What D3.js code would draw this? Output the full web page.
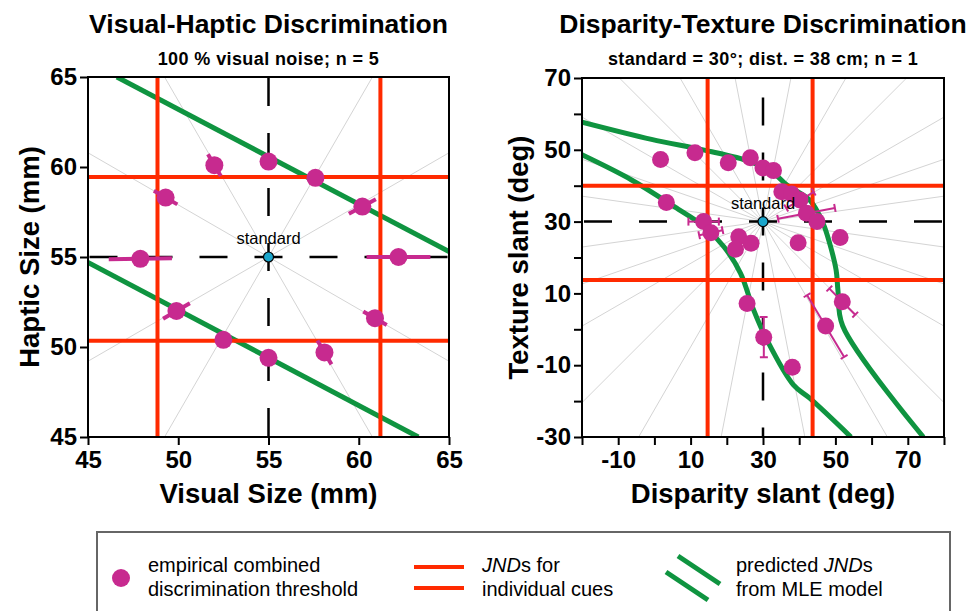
<!DOCTYPE html>
<html>
<head>
<meta charset="utf-8">
<script src="https://cdn.jsdelivr.net/npm/d3@7"></script>
<style>
  body { margin: 0; background: #fff; }
  svg { font-family: "Liberation Sans", Arial, Helvetica, sans-serif; }
</style>
</head>
<body>
<svg id="chart" width="966" height="611"></svg>
<script>
// ---- data ----
// left panel: visual-haptic
const leftStd = [55, 55];
const leftX = [52.0, 55.0, 57.6, 49.3, 60.2, 47.9, 62.2, 49.9, 52.5, 55.0, 58.1, 60.9];
const leftY = [60.1, 60.3, 59.4, 58.3, 57.8, 54.9, 55.0, 52.0, 50.4, 49.4, 49.7, 51.6];
const leftErr = [0.7, 0, 0, 0.75, 0.85, 1.75, 1.77, 0.86, 0, 0, 0.77, 0.75];
const leftRedX = [48.85, 61.2];
const leftRedY = [50.35, 59.45];
const leftGreenUpper = [[46.6, 65], [65, 55.3]];
const leftGreenLower = [[45, 54.7], [63.3, 45]];
const leftSpokes = [30, 60, 120, 150, 210, 240, 300, 330];
const leftTicks = [45, 50, 55, 60, 65];

// right panel: disparity-texture
const rightStd = [30, 30];
const rightX = [1.7, 11.2, 20.4, 26.5, 30.0, 32.9, 35.2, 37.9, 40.2, 42.0, 44.9, 51.3,
                3.3, 13.6, 15.6, 23.3, 22.4, 26.7, 39.7, 25.6, 30.2, 38.1, 47.3, 51.9];
const rightY = [47.3, 49.2, 46.4, 47.8, 44.9, 44.2, 38.3, 37.7, 36.0, 32.3, 30.0, 25.6,
                35.3, 30.0, 26.9, 25.8, 22.3, 24.0, 24.1, 7.2, -2.2, -10.6, 0.9, 7.7];
const rightErr = [0.5, 0, 0.5, 0, 0, 0, 0, 0, 4.4, 8, 0, 0.8,
                  0, 4.2, 3.3, 0, 0, 0, 0, 0, 5.6, 0, 10, 5.1];
const rightRedX = [14.7, 43.7];
const rightRedY = [13.7, 40];
const rightGreenOuter = [[-20, 57.7], [-0.8, 52.9], [13.8, 49.9], [26.5, 46.7], [32.9, 43.5],
  [36.6, 40.2], [42.9, 36], [46.6, 29.5], [48.4, 24], [50.2, 16.5], [50.7, 10.9], [52, 1.0], [74.3, -30]];
const rightGreenInner = [[-20, 48.6], [-6.3, 41.6], [5.6, 34.1], [13.8, 28.6], [19.2, 23],
  [23.8, 15.6], [27.4, 5.4], [31.1, -3], [38.4, -15.5], [42.9, -19.2], [54.3, -30]];
const rightSpokes = [8, 19, 30, 45, 60, 79, 101, 120, 135, 150, 161, 172,
                     188, 199, 210, 225, 240, 259, 281, 300, 315, 330, 341, 352];
const rightTicks = d3.range(-30, 71, 10);
const rightXTicks = d3.range(-20, 81, 10);
const rightYLabels = [70, 50, 30, 10, -10, -30];
const rightXLabels = [-10, 10, 30, 50, 70];

const MAGENTA = "#c72a8f";
const RED = "#ff2a00";
const GREEN = "#0f9440";
const CYAN = "#1ba6cc";

const svg = d3.select("#chart");

function drawPanel(opt) {
  const { x, y, id } = opt;
  const [x0, x1] = x.range();
  const [y1, y0] = y.range();
  const g = svg.append("g");

  svg.append("defs").append("clipPath").attr("id", id)
    .append("rect").attr("x", x0).attr("y", y0).attr("width", x1 - x0).attr("height", y1 - y0);

  const plot = g.append("g").attr("clip-path", `url(#${id})`);
  const cx = x(opt.std[0]), cy = y(opt.std[1]);

  // grey spokes
  plot.selectAll(".spoke").data(opt.spokes).enter().append("line")
    .attr("x1", cx).attr("y1", cy)
    .attr("x2", (a) => cx + 1000 * Math.cos(a * Math.PI / 180))
    .attr("y2", (a) => cy - 1000 * Math.sin(a * Math.PI / 180))
    .attr("stroke", "#d4d4d4").attr("stroke-width", 1);

  // black dashed cross through the standard
  [[x0, cy], [x1, cy], [cx, y0], [cx, y1]].forEach((p) => {
    plot.append("line")
      .attr("x1", cx).attr("y1", cy).attr("x2", p[0]).attr("y2", p[1])
      .attr("stroke", "#000").attr("stroke-width", 2.5)
      .attr("stroke-dasharray", "28,27").attr("stroke-dashoffset", 14);
  });

  // green MLE predictions
  const line = d3.line().x((d) => x(d[0])).y((d) => y(d[1])).curve(opt.curve);
  opt.green.forEach((pts) => {
    plot.append("path").attr("d", line(pts))
      .attr("fill", "none").attr("stroke", GREEN).attr("stroke-width", 5);
  });

  // red single-cue JNDs
  plot.selectAll(".rx").data(opt.redX).enter().append("line")
    .attr("x1", (d) => x(d)).attr("x2", (d) => x(d)).attr("y1", y0).attr("y2", y1)
    .attr("stroke", RED).attr("stroke-width", 4);
  plot.selectAll(".ry").data(opt.redY).enter().append("line")
    .attr("y1", (d) => y(d)).attr("y2", (d) => y(d)).attr("x1", x0).attr("x2", x1)
    .attr("stroke", RED).attr("stroke-width", 4);

  // error bars along the spoke direction
  opt.px.forEach((px, i) => {
    const e = opt.err[i];
    if (!e) return;
    const py = opt.py[i];
    const dx = px - opt.std[0], dy = py - opt.std[1];
    const n = Math.hypot(dx, dy);
    const ux = dx / n, uy = dy / n;
    const ax = x(px - e * ux), ay = y(py - e * uy);
    const bx = x(px + e * ux), by = y(py + e * uy);
    plot.append("line").attr("x1", ax).attr("y1", ay).attr("x2", bx).attr("y2", by)
      .attr("stroke", MAGENTA).attr("stroke-width", opt.caps ? 2 : 4);
    if (opt.caps) {
      const len = Math.hypot(bx - ax, by - ay);
      const nx = -(by - ay) / len * 4, ny = (bx - ax) / len * 4;
      [[ax, ay], [bx, by]].forEach((c) => {
        plot.append("line")
          .attr("x1", c[0] - nx).attr("y1", c[1] - ny)
          .attr("x2", c[0] + nx).attr("y2", c[1] + ny)
          .attr("stroke", MAGENTA).attr("stroke-width", 2);
      });
    }
  });

  // empirical points
  plot.selectAll(".pt").data(opt.px).enter().append("circle")
    .attr("cx", (d) => x(d)).attr("cy", (d, i) => y(opt.py[i]))
    .attr("r", opt.r).attr("fill", MAGENTA);

  // standard
  g.append("text").attr("x", cx).attr("y", cy - 13)
    .attr("text-anchor", "middle").attr("font-size", 16.5).text("standard");
  g.append("circle").attr("cx", cx).attr("cy", cy).attr("r", 5)
    .attr("fill", CYAN).attr("stroke", "#000").attr("stroke-width", 1.2);

  // frame
  g.append("rect").attr("x", x0).attr("y", y0).attr("width", x1 - x0).attr("height", y1 - y0)
    .attr("fill", "none").attr("stroke", "#000").attr("stroke-width", 2);

  // axes
  const xAxis = d3.axisBottom(x).tickValues(opt.xTicks).tickSize(8).tickPadding(6)
    .tickFormat((d) => (opt.xLabels.includes(d) ? d : ""));
  const yAxis = d3.axisLeft(y).tickValues(opt.yTicks).tickSize(8).tickPadding(3)
    .tickFormat((d) => (opt.yLabels.includes(d) ? d : ""));
  [g.append("g").attr("transform", `translate(0,${y1})`).call(xAxis),
   g.append("g").attr("transform", `translate(${x0},0)`).call(yAxis)].forEach((ax) => {
    ax.select(".domain").remove();
    ax.selectAll("line").attr("stroke", "#000").attr("stroke-width", 2);
    ax.selectAll("text").attr("font-size", 24).attr("font-weight", "bold")
      .attr("font-family", "Liberation Sans, Arial, sans-serif").attr("fill", "#000");
  });

  const mid = (x0 + x1) / 2;
  g.append("text").attr("x", mid).attr("y", 33).attr("text-anchor", "middle")
    .attr("font-size", 26.5).attr("font-weight", "bold").text(opt.title);
  g.append("text").attr("x", mid).attr("y", 65).attr("text-anchor", "middle")
    .attr("font-size", 18).attr("letter-spacing", 0.4).attr("font-weight", "bold").text(opt.subtitle);
  g.append("text").attr("x", mid).attr("y", 503).attr("text-anchor", "middle")
    .attr("font-size", 27.5).attr("font-weight", "bold").text(opt.xTitle);
  g.append("text").attr("transform", `translate(${opt.yTitleX},${(y0 + y1) / 2}) rotate(-90)`)
    .attr("text-anchor", "middle").attr("font-size", 27.5).attr("font-weight", "bold").text(opt.yTitle);
}

drawPanel({
  id: "clipL",
  x: d3.scaleLinear().domain([45, 65]).range([88, 449]),
  y: d3.scaleLinear().domain([45, 65]).range([437, 77]),
  std: leftStd, px: leftX, py: leftY, err: leftErr, caps: false, r: 9,
  redX: leftRedX, redY: leftRedY,
  green: [leftGreenUpper, leftGreenLower], curve: d3.curveLinear,
  spokes: leftSpokes,
  xTicks: leftTicks, yTicks: leftTicks, xLabels: leftTicks, yLabels: leftTicks,
  title: "Visual-Haptic Discrimination",
  subtitle: "100 % visual noise; n = 5",
  xTitle: "Visual Size (mm)", yTitle: "Haptic Size (mm)", yTitleX: 39
});

drawPanel({
  id: "clipR",
  x: d3.scaleLinear().domain([-20, 80]).range([582, 944]),
  y: d3.scaleLinear().domain([-30, 70]).range([437, 78]),
  std: rightStd, px: rightX, py: rightY, err: rightErr, caps: true, r: 8.5,
  redX: rightRedX, redY: rightRedY,
  green: [rightGreenOuter, rightGreenInner], curve: d3.curveCatmullRom.alpha(0.5),
  spokes: rightSpokes,
  xTicks: rightXTicks, yTicks: rightTicks, xLabels: rightXLabels, yLabels: rightYLabels,
  title: "Disparity-Texture Discrimination",
  subtitle: "standard = 30°; dist. = 38 cm; n = 1",
  xTitle: "Disparity slant (deg)", yTitle: "Texture slant (deg)", yTitleX: 528
});

// ---- legend ----
const legend = svg.append("g");
legend.append("rect").attr("x", 97).attr("y", 532).attr("width", 853).attr("height", 90)
  .attr("fill", "#fff").attr("stroke", "#666").attr("stroke-width", 2);

legend.append("circle").attr("cx", 121).attr("cy", 578).attr("r", 9).attr("fill", MAGENTA);
const lt = (x, y, parts) => {
  const t = legend.append("text").attr("x", x).attr("y", y).attr("font-size", 20);
  parts.forEach((p) => t.append("tspan").attr("font-style", p[1] ? "italic" : "normal").text(p[0]));
};
lt(148, 572, [["empirical combined"]]);
lt(148, 596, [["discrimination threshold"]]);

[567, 588].forEach((yy) => {
  legend.append("line").attr("x1", 414).attr("x2", 464).attr("y1", yy).attr("y2", yy)
    .attr("stroke", RED).attr("stroke-width", 4);
});
lt(482, 572, [["JND", true], ["s for"]]);
lt(482, 596, [["individual cues"]]);

[[678, 556, 720, 584], [666, 572, 708, 600]].forEach((s) => {
  legend.append("line").attr("x1", s[0]).attr("y1", s[1]).attr("x2", s[2]).attr("y2", s[3])
    .attr("stroke", GREEN).attr("stroke-width", 5);
});
lt(736, 572, [["predicted "], ["JND", true], ["s"]]);
lt(736, 596, [["from MLE model"]]);
</script>
</body>
</html>
